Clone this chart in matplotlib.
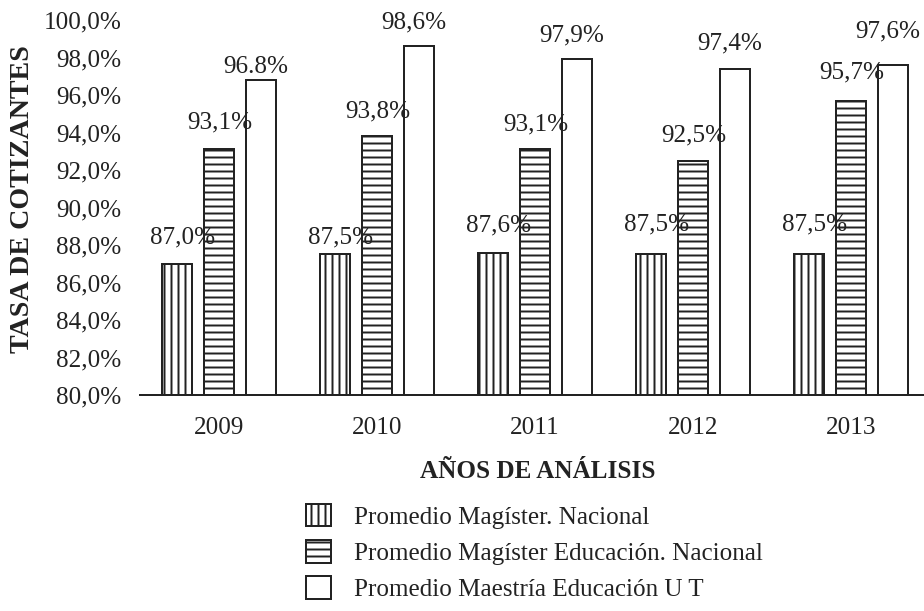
import numpy as np
import matplotlib.pyplot as plt
from matplotlib.patches import Patch

# data
years = ["2009", "2010", "2011", "2012", "2013"]
mag_nacional = [87.0, 87.5, 87.6, 87.5, 87.5]
mag_educ_nacional = [93.1, 93.8, 93.1, 92.5, 95.7]
maestria_ut = [96.8, 98.6, 97.9, 97.4, 97.6]
lbl_nacional = ["87,0%", "87,5%", "87,6%", "87,5%", "87,5%"]
lbl_educ = ["93,1%", "93,8%", "93,1%", "92,5%", "95,7%"]
lbl_ut = ["96.8%", "98,6%", "97,9%", "97,4%", "97,6%"]
series_names = ["Promedio Magíster. Nacional",
                "Promedio Magíster Educación. Nacional",
                "Promedio Maestría Educación U T"]
yticks = np.arange(80, 100.1, 2)

# label offsets in pixels (dx, dy above bar top), as placed in the original
dx_px = [6, 1, -5]
dy_px = [[26, 17, 27, 30, 30],
         [27, 25, 25, 25, 28],
         [13, 24, 24, 25, 34]]

DPI = 84
plt.rcParams['font.family'] = ['Liberation Serif', 'DejaVu Serif']
plt.rcParams['hatch.linewidth'] = 1.7
plt.rcParams['hatch.color'] = '#222222'
ink = '#222222'
fs = 21.5

fig = plt.figure(figsize=(924 / DPI, 611 / DPI), dpi=DPI)
ax = fig.add_axes([140 / 924, 216 / 611, 790 / 924, 375 / 611])

x = np.arange(len(years))
w = 0.184
off = 0.266
hatches = ['||', '--', '']
all_vals = [mag_nacional, mag_educ_nacional, maestria_ut]
all_lbls = [lbl_nacional, lbl_educ, lbl_ut]

for i, (vals, lbls) in enumerate(zip(all_vals, all_lbls)):
    xs = x + (i - 1) * off
    ax.bar(xs, np.array(vals) - 80, bottom=80, width=w, facecolor='white',
           edgecolor=ink, linewidth=1.7, hatch=hatches[i], zorder=2)
    for j in range(len(years)):
        ax.annotate(lbls[j], (xs[j], vals[j]),
                    xytext=(dx_px[i] * 72 / DPI, dy_px[i][j] * 72 / DPI),
                    textcoords='offset points', ha='center', va='center',
                    fontsize=fs, color=ink, zorder=3)

ax.set_xlim(-0.5, len(years) - 0.5)
ax.set_ylim(80, 100)
ax.set_yticks(yticks)
ax.set_yticklabels([f"{t:.1f}%".replace('.', ',') for t in yticks])
ax.set_xticks(x)
ax.set_xticklabels(years)
ax.tick_params(axis='y', length=0, pad=16, labelsize=fs, colors=ink)
ax.tick_params(axis='x', length=0, pad=19, labelsize=fs, colors=ink)
for s in ['top', 'right', 'left']:
    ax.spines[s].set_visible(False)
ax.spines['bottom'].set_color(ink)
ax.spines['bottom'].set_linewidth(1.7)

fig.text(23 / 924, 1 - 199 / 611, "TASA DE COTIZANTES", rotation=90,
         ha='center', va='center', fontsize=24, fontweight='bold', color=ink)
fig.text(538 / 924, 1 - 472 / 611, "AÑOS DE ANÁLISIS",
         ha='center', va='center', fontsize=21.5, fontweight='bold', color=ink)

handles = [Patch(facecolor='white', edgecolor=ink, linewidth=1.7, hatch=h)
           for h in hatches]
leg = fig.legend(handles, series_names, loc='upper left',
                 bbox_to_anchor=(306 / 924, 1 - 504 / 611), frameon=False,
                 fontsize=fs, handlelength=1.0, handleheight=1.0,
                 handletextpad=0.9, labelspacing=0.45, borderpad=0,
                 borderaxespad=0)
for t in leg.get_texts():
    t.set_color(ink)

fig.savefig("out.png", dpi=DPI, facecolor='white')
